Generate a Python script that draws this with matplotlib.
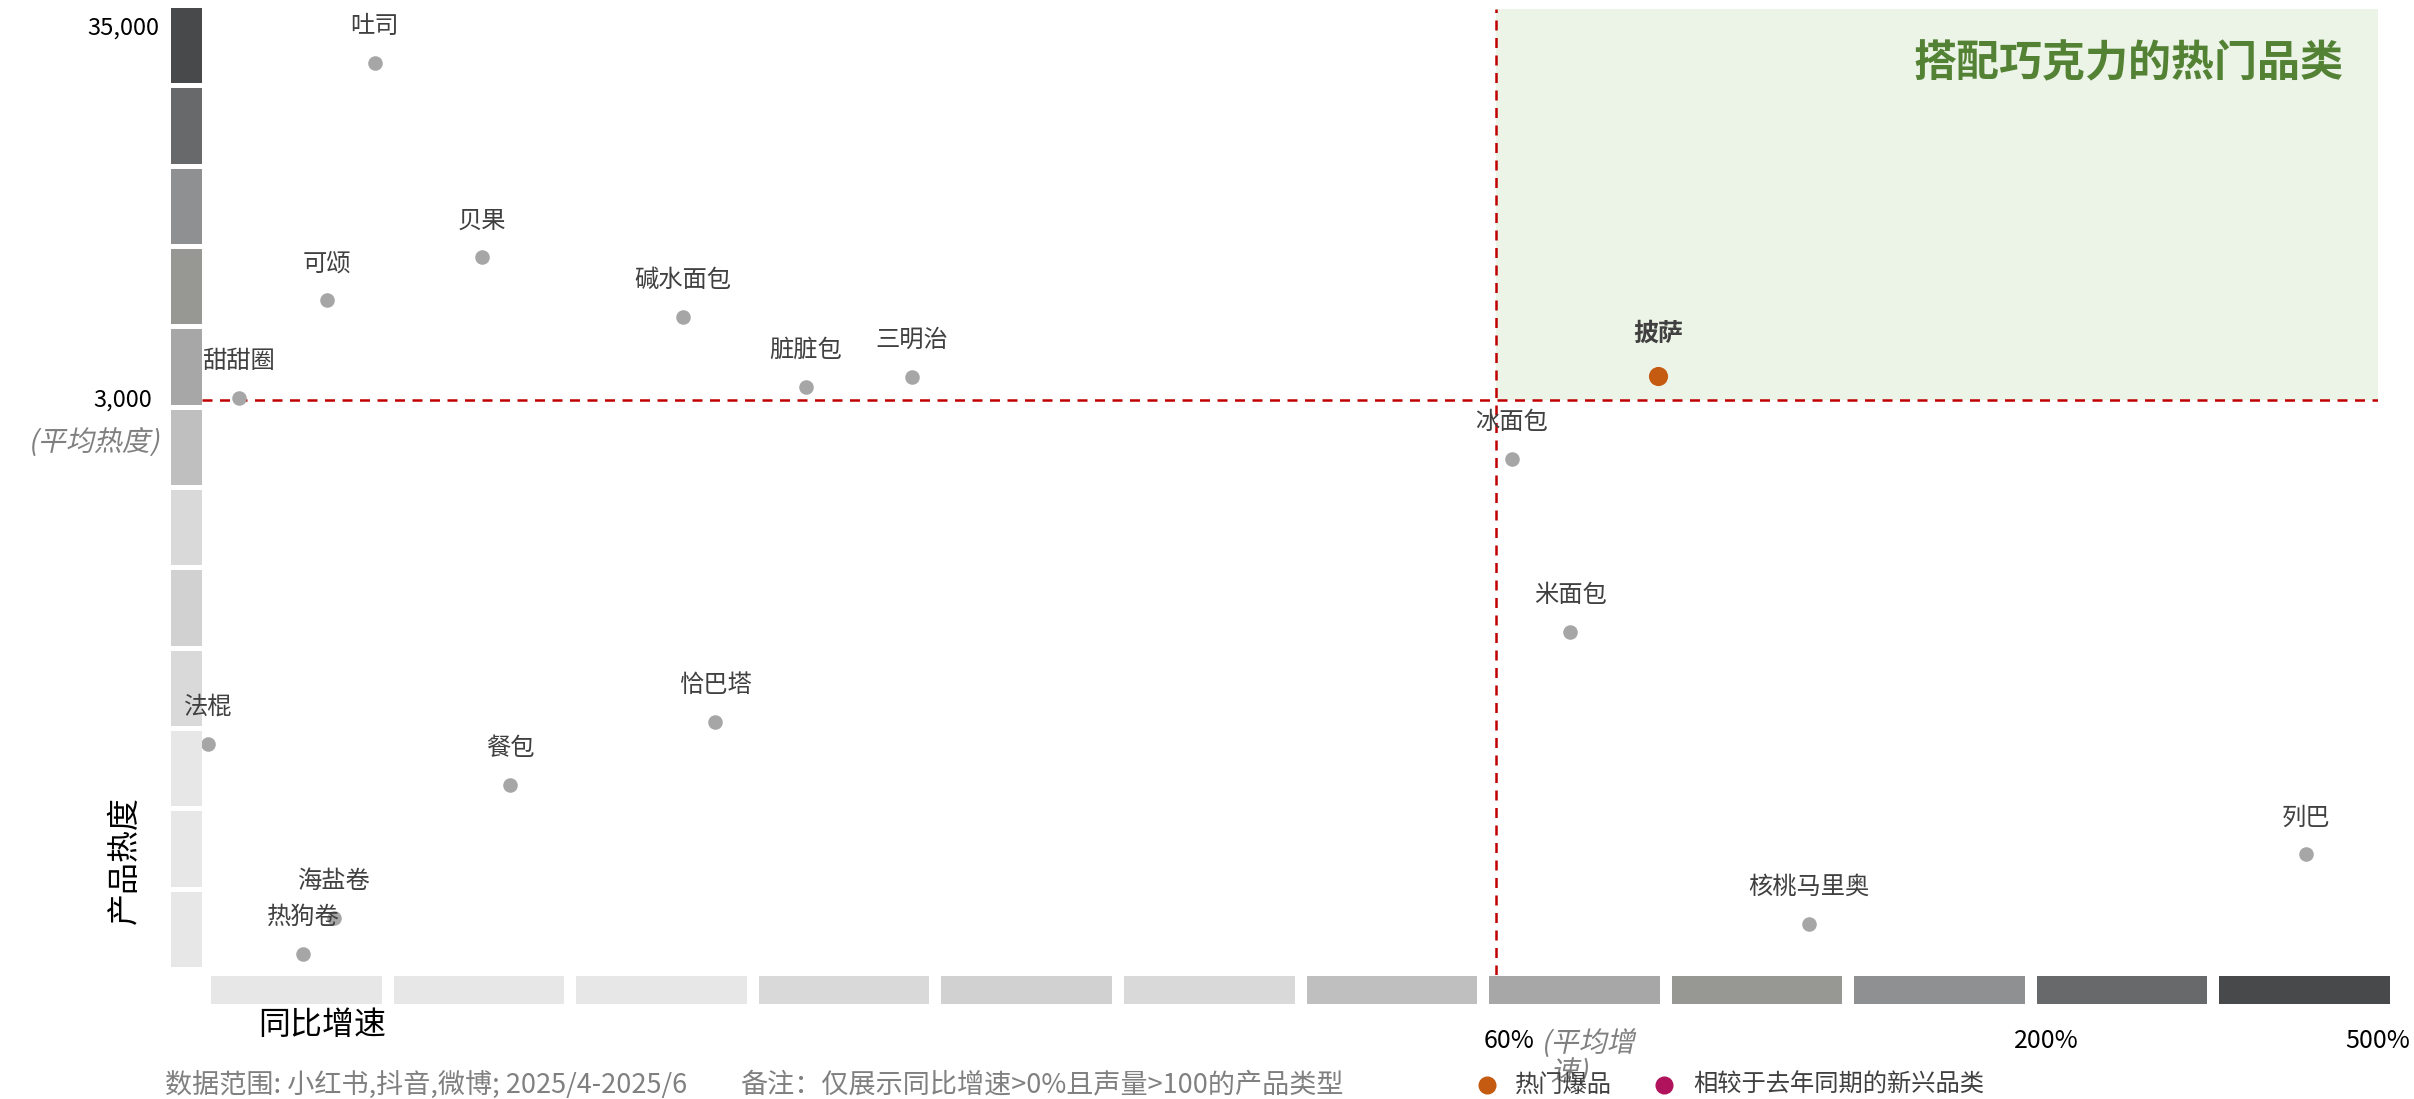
import numpy as np
import matplotlib
matplotlib.use("Agg")
import matplotlib.pyplot as plt
from matplotlib.patches import Rectangle, PathPatch
from matplotlib.lines import Line2D
from matplotlib.textpath import TextPath
from matplotlib.font_manager import FontProperties
from matplotlib.transforms import blended_transform_factory, Affine2D, IdentityTransform

plt.rcParams['font.family'] = ['Noto Sans CJK SC', 'DejaVu Sans']

# ---- data ----
products = ['吐司', '可颂', '贝果', '碱水面包', '甜甜圈', '脏脏包', '三明治', '披萨',
            '冰面包', '米面包', '恰巴塔', '法棍', '餐包', '海盐卷', '热狗卷',
            '核桃马里奥', '列巴']
growth = [8.0, 5.8, 13.0, 22.3, 1.7, 28.0, 32.9, 101.2,
          64.0, 78.9, 23.8, 0.3, 14.3, 6.1, 4.7,
          139.6, 435.0]
heat = [27800, 5800, 7700, 5200, 3040, 3280, 3490, 3520,
        2120, 760, 447, 393, 307, 140, 113,
        135, 204]
hot_items = ['披萨']

avg_growth = 60
avg_heat = 3000
x_ticks = [60, 200, 500]
x_tick_labels = ['60%', '200%', '500%']
y_ticks = [3000, 35000]
y_tick_labels = ['3,000', '35,000']
legend_labels = ['热门爆品', '相较于去年同期的新兴品类']
legend_colors = ['#c55a11', '#b0125b']

ramp = ['#48494b', '#68696b', '#8f9092', '#979893', '#a7a7a7', '#bfbfbf',
        '#d9d9d9', '#d0d1d0', '#d9d9d9', '#e7e7e7', '#e6e7e6', '#e7e7e7']

# ---- piecewise scales ----
gx_knots = np.array([0.0, 60.0, 200.0, 500.0])
gx_pos = np.array([0.0, 0.5947, 0.8474, 1.0])
hy_knots = np.log10(np.array([100.0, 3000.0, 35000.0]))
hy_pos = np.array([0.0, 0.5952, 0.9803])


def pw_forward(v, knots, pos):
    v = np.asarray(v, dtype=float)
    out = np.interp(v, knots, pos)
    lo_s = (pos[1] - pos[0]) / (knots[1] - knots[0])
    hi_s = (pos[-1] - pos[-2]) / (knots[-1] - knots[-2])
    out = np.where(v < knots[0], pos[0] + (v - knots[0]) * lo_s, out)
    out = np.where(v > knots[-1], pos[-1] + (v - knots[-1]) * hi_s, out)
    return out


def x_fwd(v):
    return pw_forward(v, gx_knots, gx_pos)


def x_inv(p):
    return pw_forward(p, gx_pos, gx_knots)


def y_fwd(v):
    v = np.clip(np.asarray(v, dtype=float), 1e-6, None)
    return pw_forward(np.log10(v), hy_knots, hy_pos)


def y_inv(p):
    return 10 ** pw_forward(p, hy_pos, hy_knots)


W, H = 2414, 1099
fig = plt.figure(figsize=(W / 100, H / 100), dpi=100)
L, R, T, B = 202, 2378, 9, 975
ax = fig.add_axes([L / W, 1 - B / H, (R - L) / W, (B - T) / H])
ax.patch.set_alpha(0)
ax.set_xscale('function', functions=(x_fwd, x_inv))
ax.set_yscale('function', functions=(y_fwd, y_inv))
ax.set_xlim(0, 500)
ax.set_ylim(100, float(y_inv(1.0)))
for s in ax.spines.values():
    s.set_visible(False)
ax.set_xticks([])
ax.set_yticks([])
ax.minorticks_off()

cjk = FontProperties(family='Noto Sans CJK SC')


def slanted_text(px, py, s, size_px, color, ha='left'):
    """Oblique text placed at display pixel (px, py), vertically centred."""
    tp = TextPath((0, 0), s, size=size_px, prop=cjk)
    ext = tp.get_extents()
    dx = -ext.x1 if ha == 'right' else (-(ext.x0 + ext.x1) / 2 if ha == 'center' else -ext.x0)
    tr = Affine2D().translate(dx, -size_px * 0.38).skew_deg(12, 0).translate(px, py)
    fig.add_artist(PathPatch(tp, transform=tr + IdentityTransform(),
                             facecolor=color, edgecolor='none'))


# highlighted quadrant
ax.add_patch(Rectangle((avg_growth, avg_heat), 500 - avg_growth,
                       float(y_inv(1.0)) - avg_heat, facecolor='#ecf4e7',
                       edgecolor='none', zorder=0))
ax.text(0.984, 0.944, '搭配巧克力的热门品类', transform=ax.transAxes,
        ha='right', va='center', fontsize=31, fontweight='bold', color='#548235')

# average lines
ax.axhline(avg_heat, color='#c00000', lw=1.8, dashes=(4, 3), zorder=1)
ax.axvline(avg_growth, color='#c00000', lw=1.8, dashes=(4, 3), zorder=1)

# points
for name, gx, hy in zip(products, growth, heat):
    if name in hot_items:
        ax.scatter(gx, hy, s=190, color='#c55a11', zorder=3, linewidths=0)
        ax.annotate(name, (gx, hy), xytext=(0, 42), textcoords='offset pixels',
                    ha='center', va='center', fontsize=18, fontweight='bold',
                    color='#404040', zorder=4)
    else:
        ax.scatter(gx, hy, s=110, color='#a6a6a6', zorder=3, linewidths=0)
        ax.annotate(name, (gx, hy), xytext=(0, 37), textcoords='offset pixels',
                    ha='center', va='center', fontsize=17.5, color='#404040',
                    zorder=4)

# graded bars along both axes
gap = 5
seg_h = (967 - 8 - 11 * gap) / 12
for i, c in enumerate(ramp):
    y0 = 8 + i * (seg_h + gap)
    fig.patches.append(Rectangle((171 / W, 1 - (y0 + seg_h) / H), 31 / W, seg_h / H,
                                 transform=fig.transFigure, facecolor=c,
                                 edgecolor='none', zorder=-1))
gapx = 12
seg_w = (2390 - 211 - 11 * gapx) / 12
for i, c in enumerate(ramp[::-1]):
    x0 = 211 + i * (seg_w + gapx)
    fig.patches.append(Rectangle((x0 / W, 1 - 1004 / H), seg_w / W, 28 / H,
                                 transform=fig.transFigure, facecolor=c,
                                 edgecolor='none', zorder=-1))

# y tick labels
ty = blended_transform_factory(fig.transFigure, ax.transData)
for v, lab in zip(y_ticks, y_tick_labels):
    xr = 152 if v == avg_heat else 159
    ax.text(xr / W, v, lab, transform=ty, ha='right', va='center',
            fontsize=17, color='#000000')
avg_y_px = ax.transData.transform((1, avg_heat))[1]
slanted_text(159, avg_y_px - 40, '(平均热度)', 28, '#808080', ha='right')

# x tick labels
tx = blended_transform_factory(ax.transData, fig.transFigure)
for v, lab in zip(x_ticks, x_tick_labels):
    shift = 13 if v == avg_growth else 0
    ax.annotate(lab, (v, 1 - 1041 / H), xycoords=tx, xytext=(shift, 0),
                textcoords='offset pixels', ha='center', va='center',
                fontsize=18, color='#000000')
avg_x_px = ax.transData.transform((avg_growth, 1000))[0]
slanted_text(avg_x_px + 50, H - 1041, '(平均增', 28, '#808080')
slanted_text(avg_x_px + 58, H - 1070, '速)', 28, '#808080')

# axis titles
fig.text(322 / W, 1 - 1025 / H, '同比增速', ha='center', va='center',
         fontsize=23, color='#000000')
fig.text(125 / W, 1 - 860 / H, '产品热度', ha='center', va='center',
         fontsize=23, color='#000000', rotation=90)

# footnotes
fig.text(165 / W, 1 - 1085 / H, '数据范围: 小红书,抖音,微博; 2025/4-2025/6',
         ha='left', va='center', fontsize=19.5, color='#808080')
fig.text(740 / W, 1 - 1085 / H, '备注：仅展示同比增速>0%且声量>100的产品类型',
         ha='left', va='center', fontsize=19.5, color='#808080')

# legend
for mx, tx0, lab, col in zip([1487, 1664], [1515, 1693], legend_labels, legend_colors):
    fig.add_artist(Line2D([mx / W], [1 - 1085 / H], marker='o', ls='none',
                          color=col, markersize=12, transform=fig.transFigure))
    fig.text(tx0 / W, 1 - 1085 / H, lab, ha='left', va='center',
             fontsize=17.5, color='#404040')

fig.savefig('out.png', dpi=100)
